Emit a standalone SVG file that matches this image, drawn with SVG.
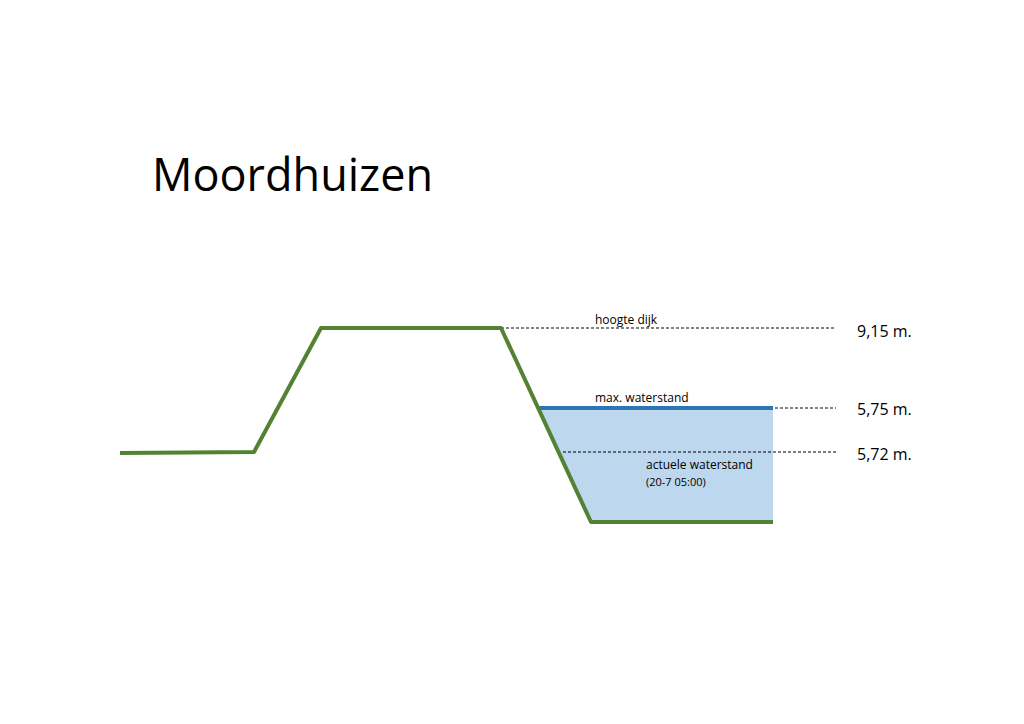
<svg xmlns="http://www.w3.org/2000/svg" width="1024" height="724" viewBox="0 0 1024 724">
<style>
.t{font-family:"Open Sans","Liberation Sans",sans-serif;fill:#000}
.d{stroke:#000;stroke-width:1;stroke-dasharray:3,2;fill:none}
</style>
<rect width="1024" height="724" fill="#fff"/>
<text class="t" x="152" y="191" font-size="45">Moordhuizen</text>
<g id="water"><polygon points="538,408 773,408 773,522 591,522" fill="#bdd7ee"/>
<line x1="538" y1="408" x2="773" y2="408" stroke="#2e75b6" stroke-width="4"/></g>
<g id="connectors">
<line class="d" x1="501" y1="328" x2="836" y2="328"/>
<line class="d" x1="775" y1="408" x2="836" y2="408"/>
<line class="d" x1="563" y1="452" x2="836" y2="452"/>
</g>
<g id="dike"><polyline points="120,453 254,452 321,328 501,328 591,522 773,522" fill="none" stroke="#548235" stroke-width="4" stroke-linejoin="round"/></g>
<g id="labels">
<text class="t" x="595" y="324" font-size="12">hoogte dijk</text>
<text class="t" x="595" y="402" font-size="12">max.  waterstand</text>
<text class="t" x="646" y="469" font-size="12">actuele waterstand</text>
<text class="t" x="646" y="486" font-size="11">(20-7 05:00)</text>
<text class="t" x="857" y="337" font-size="16">9,15 m.</text>
<text class="t" x="857" y="415" font-size="16">5,75 m.</text>
<text class="t" x="857" y="460" font-size="16">5,72 m.</text>
</g>
</svg>
